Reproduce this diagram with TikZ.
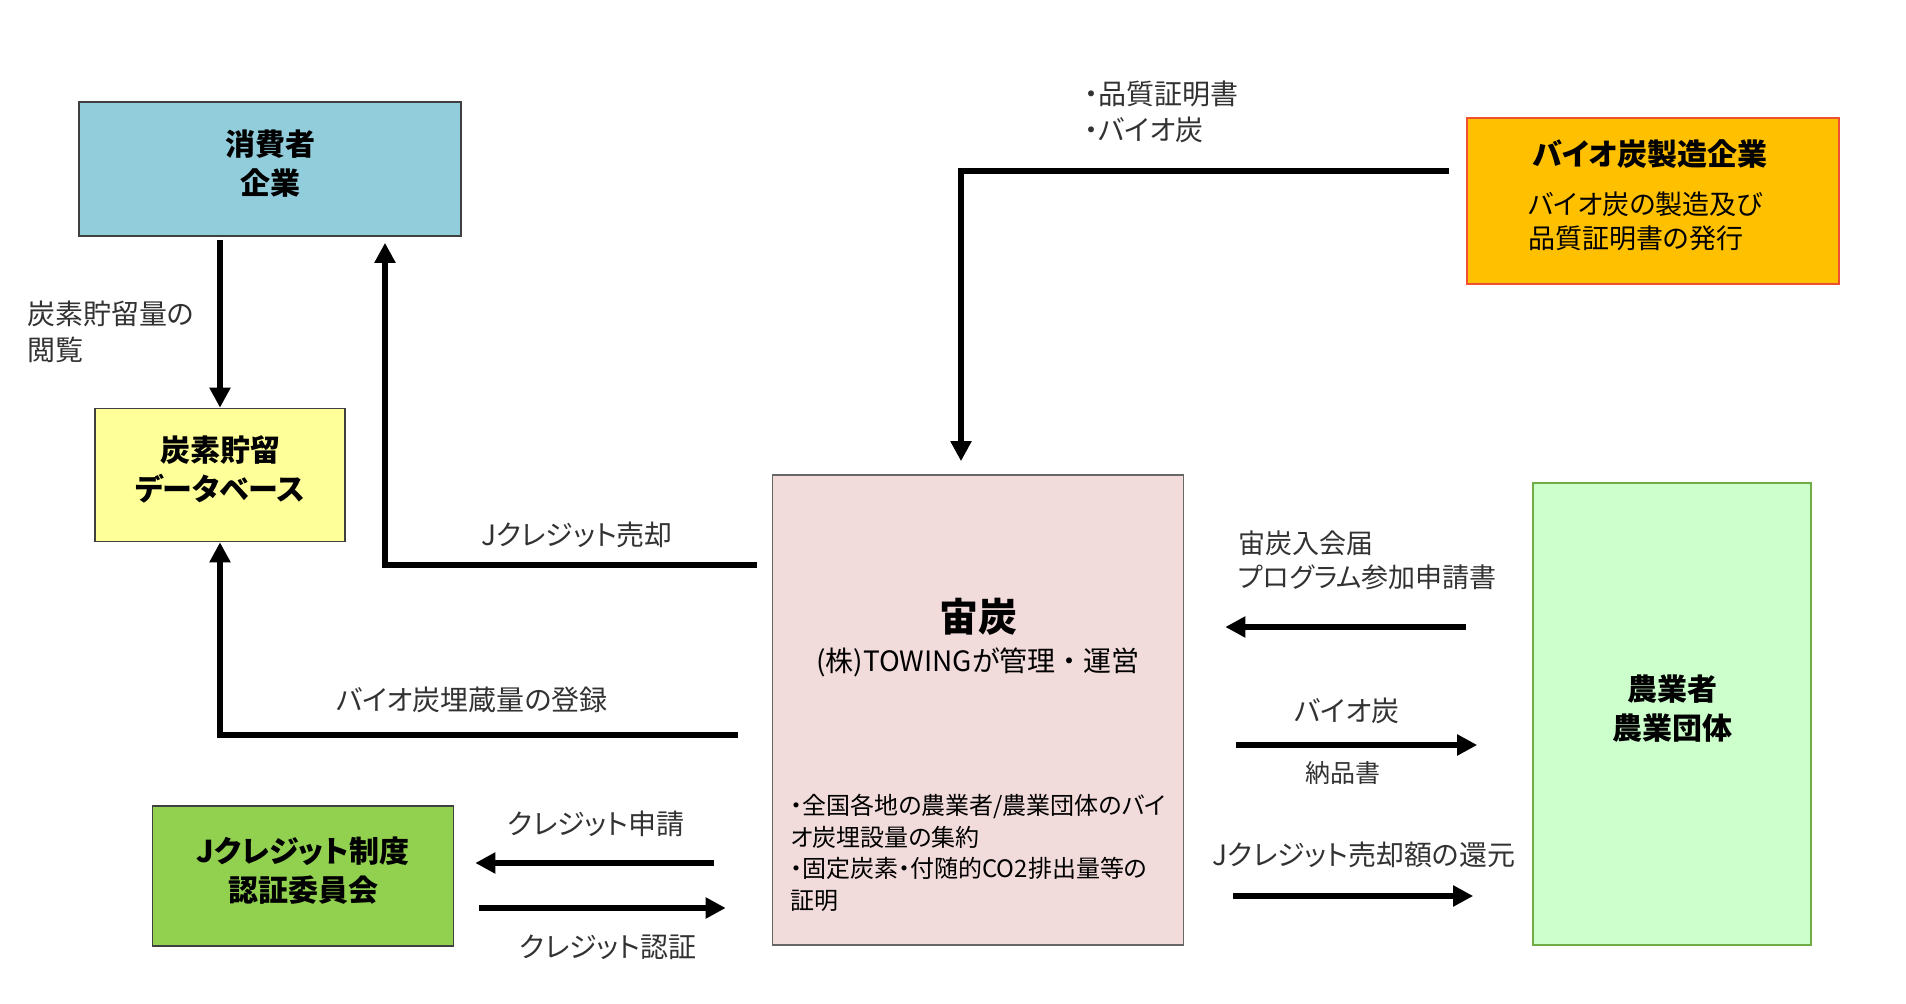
\documentclass[tikz,border=0pt]{standalone}
\usepackage{fontspec}
\setmainfont{Noto Sans CJK JP}[RawFeature=+palt]
\usepackage{xcolor}
\usepackage{tikz}
\usetikzlibrary{arrows.meta, positioning, calc}
\definecolor{consumerblue}{RGB}{146, 205, 220}
\definecolor{dbyellow}{RGB}{255, 255, 153}
\definecolor{makerorange}{RGB}{255, 192, 0}
\definecolor{makerred}{RGB}{240, 80, 50}
\definecolor{sorapink}{RGB}{242, 220, 219}
\definecolor{farmgreen}{RGB}{204, 255, 204}
\definecolor{farmline}{RGB}{112, 173, 71}
\definecolor{jcgreen}{RGB}{146, 208, 80}
\definecolor{boxline}{RGB}{64, 64, 64}
\definecolor{labelgray}{RGB}{50, 50, 50}
% raises a centred title a little inside its box
\newcommand{\titlelift}{\rule[-6.5pt]{0pt}{6.5pt}}

\begin{document}
\begin{tikzpicture}[x=0.5pt, y=-0.5pt,
    box/.style={draw=boxline, line width=0.8pt, inner sep=0pt, align=center},
    title/.style={font=\fontsize{15}{19.5}\selectfont\bfseries},
    lbl/.style={text=labelgray, inner sep=0pt, font=\fontsize{14}{18}\selectfont},
    flow/.style={line width=3pt, -{Triangle[length=10pt, width=10pt]}}]

    \useasboundingbox (0,0) rectangle (1906,1004);

    % actors
    \node[box, title, fill=consumerblue, minimum width=191pt, minimum height=67pt] (consumer) at (270,169) {消費者\\企業\titlelift};
    \node[box, title, fill=dbyellow, minimum width=125pt, minimum height=66.5pt] (db) at (220,475) {炭素貯留\\データベース\titlelift};
    \node[box, title, fill=jcgreen, minimum width=150.5pt, minimum height=70pt] (jcredit) at (303,876) {Jクレジット制度\\認証委員会\titlelift};
    \node[box, fill=makerorange, draw=makerred, minimum width=186pt, minimum height=83pt] (maker) at (1653,201) {};
    \node[box, fill=sorapink, draw=boxline!80, minimum width=205.5pt, minimum height=235pt] (sora) at (978,710) {};
    \node[box, title, fill=farmgreen, draw=farmline, minimum width=139pt, minimum height=231pt] (farmer) at (1672,714) {農業者\\農業団体\titlelift};

    % texts inside the boxes
    \node[title] (makertitle) at (1650,154) {バイオ炭製造企業};
    \node[anchor=west, inner sep=0pt, align=left, font=\fontsize{13.5}{17}\selectfont] (makertext) at (1528,221) {バイオ炭の製造及び\\品質証明書の発行};
    \node[inner sep=0pt, font=\fontsize{19.5}{22}\selectfont\bfseries] (soratitle) at (978,617) {宙炭};
    \node[inner sep=0pt, font=\fontsize{14}{17}\selectfont] (sorasub) at (978,662) {(株)TOWINGが管理\makebox[1em]{・}運営};
    \node[anchor=west, inner sep=0pt, align=left, font=\fontsize{12}{15.8}\selectfont] (soratext) at (790,853)
        {・全国各地の農業者/農業団体のバイ\\オ炭埋設量の集約\\・固定炭素・付随的CO2排出量等の\\証明};

    % flows
    \draw[flow, shorten <=1.5pt] (db.north |- consumer.south) -- (db.north);
    \draw[flow, shorten <=7.5pt, shorten >=3pt] (sora.west |- 0,565) -| (385,0 |- consumer.south);
    \draw[flow, shorten <=17pt] (sora.west |- 0,735) -| (db.south);
    \draw[flow, shorten <=8.5pt, shorten >=6.5pt] (maker.west |- 0,171) -| (961,0 |- sora.north);
    \draw[flow, shorten <=29pt, shorten >=10.5pt] (sora.west |- 0,863) -- (jcredit.east |- 0,863);
    \draw[flow, shorten <=12.5pt, shorten >=23pt] (jcredit.east |- 0,908) -- (sora.west |- 0,908);
    \draw[flow, shorten <=33pt, shorten >=20.5pt] (farmer.west |- 0,627) -- (sora.east |- 0,627);
    \draw[flow, shorten <=26pt, shorten >=27.5pt] (sora.east |- 0,745) -- (farmer.west |- 0,745);
    \draw[flow, shorten <=24.5pt, shorten >=29.5pt] (sora.east |- 0,896) -- (farmer.west |- 0,896);

    % flow labels
    \node[lbl, anchor=west, align=left] (lview) at (27,332) {炭素貯留量の\\閲覧};
    \node[lbl] (lsell) at (577,535) {Jクレジット売却};
    \node[lbl] (lreg) at (472,700) {バイオ炭埋蔵量の登録};
    \node[lbl, anchor=west, align=left] (lsupply) at (1084,112) {・品質証明書\\・バイオ炭};
    \node[lbl] (lapply) at (596,824) {クレジット申請};
    \node[lbl] (lcert) at (608,947) {クレジット認証};
    \node[lbl, anchor=west, align=left, font=\fontsize{13.5}{17}\selectfont] (ljoin) at (1238,560) {宙炭入会届\\プログラム参加申請書};
    \node[lbl] (lbio) at (1347,711) {バイオ炭};
    \node[lbl, font=\fontsize{12.5}{15}\selectfont] (lnote) at (1343,773) {納品書};
    \node[lbl] (lret) at (1364,855) {Jクレジット売却額の還元};
\end{tikzpicture}
\end{document}
